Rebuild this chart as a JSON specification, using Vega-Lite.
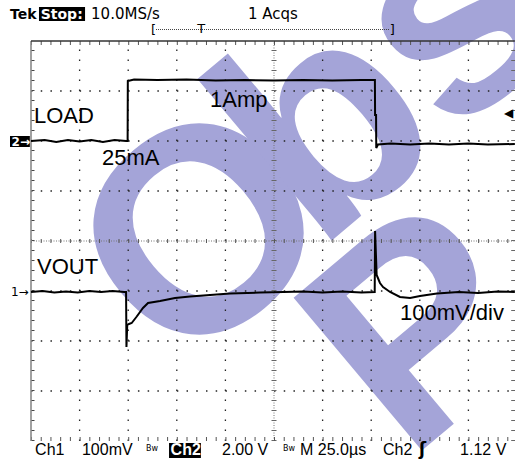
{
  "$schema": "https://vega.github.io/schema/vega-lite/v6.json",
  "width": 515,
  "height": 461,
  "autosize": {"type": "none"},
  "padding": 0,
  "background": "white",
  "config": {"view": {"stroke": null}},
  "datasets": {
    "wm": [
      {"t": -49.9, "v": -2.74, "txt": "O"},
      {"t": 22.1, "v": -0.24, "txt": "b"},
      {"t": 90.5, "v": 2.02, "txt": "s"},
      {"t": 68.4, "v": -4.44, "txt": "P"}
    ],
    "vg": [
      {"t": -100, "v": -4, "v2": 4}, {"t": -75, "v": -4, "v2": 4}, {"t": -50, "v": -4, "v2": 4}, {"t": -25, "v": -4, "v2": 4},
      {"t": 25, "v": -4, "v2": 4}, {"t": 50, "v": -4, "v2": 4}, {"t": 75, "v": -4, "v2": 4}, {"t": 100, "v": -4, "v2": 4}
    ],
    "hg": [
      {"v": -3, "t": -125, "t2": 123.9}, {"v": -2, "t": -125, "t2": 123.9}, {"v": -1, "t": -125, "t2": 123.9},
      {"v": 1, "t": -125, "t2": 123.9}, {"v": 2, "t": -125, "t2": 123.9}, {"v": 3, "t": -125, "t2": 123.9}
    ],
    "vc": [{"t": 0, "v": -4, "v2": 4}],
    "vticks": [{"t": 0, "v": -4, "v2": 4}, {"t": 123.3, "v": -4, "v2": 4}],
    "lticks": [{"t": -124.1, "v": -4, "v2": 4}],
    "lborder": [{"t": -125, "v": -4, "v2": 4}],
    "hc": [{"v": 0, "t": -125, "t2": 123.9}],
    "hticks": [{"v": 0, "t": -125, "t2": 123.9}, {"v": 3.96, "t": -125, "t2": 123.9}, {"v": -3.96, "t": -125, "t2": 123.9}],
    "tborder": [{"v": 4, "t": -125, "t2": 123.9}],
    "ch2": [
      {"t": -125, "v": 2.0}, {"t": -118, "v": 2.02}, {"t": -112, "v": 1.98}, {"t": -106, "v": 2.02},
      {"t": -100, "v": 1.99}, {"t": -94, "v": 2.02}, {"t": -88, "v": 1.98}, {"t": -82, "v": 2.02},
      {"t": -76, "v": 2.0}, {"t": -75.3, "v": 2.0}, {"t": -75.2, "v": 3.2}, {"t": -72, "v": 3.23},
      {"t": -60, "v": 3.22}, {"t": -45, "v": 3.23}, {"t": -30, "v": 3.21}, {"t": -15, "v": 3.22},
      {"t": 0, "v": 3.21}, {"t": 15, "v": 3.22}, {"t": 30, "v": 3.21}, {"t": 45, "v": 3.22},
      {"t": 51.9, "v": 3.22}, {"t": 52.0, "v": 2.52}, {"t": 52.5, "v": 2.52}, {"t": 52.6, "v": 1.86},
      {"t": 53.5, "v": 1.93}, {"t": 60, "v": 1.95}, {"t": 70, "v": 1.93}, {"t": 80, "v": 1.95},
      {"t": 90, "v": 1.93}, {"t": 100, "v": 1.95}, {"t": 110, "v": 1.93}, {"t": 123.9, "v": 1.94}
    ],
    "ch1": [
      {"t": -125, "v": -1.02}, {"t": -119, "v": -1.0}, {"t": -113, "v": -1.03}, {"t": -107, "v": -1.01},
      {"t": -101, "v": -1.03}, {"t": -95, "v": -1.0}, {"t": -89, "v": -1.02}, {"t": -83, "v": -1.0},
      {"t": -77, "v": -1.02}, {"t": -76.1, "v": -1.02}, {"t": -75.9, "v": -2.12}, {"t": -75.5, "v": -1.68},
      {"t": -74.6, "v": -1.66}, {"t": -73.2, "v": -1.64}, {"t": -70.6, "v": -1.51}, {"t": -67.4, "v": -1.34},
      {"t": -64.8, "v": -1.24}, {"t": -58.6, "v": -1.2}, {"t": -50.9, "v": -1.14}, {"t": -43.2, "v": -1.11},
      {"t": -32.9, "v": -1.08}, {"t": -22.6, "v": -1.05}, {"t": -7.2, "v": -1.03}, {"t": 5, "v": -1.02},
      {"t": 15, "v": -1.01}, {"t": 25, "v": -1.03}, {"t": 35, "v": -1.01}, {"t": 45, "v": -1.03},
      {"t": 51.8, "v": -1.02}, {"t": 52.0, "v": 0.2}, {"t": 52.8, "v": -0.68}, {"t": 54.5, "v": -0.84},
      {"t": 56.1, "v": -0.92}, {"t": 59.7, "v": -1.02}, {"t": 64.8, "v": -1.12}, {"t": 70, "v": -1.14},
      {"t": 75.1, "v": -1.1}, {"t": 83.8, "v": -1.05}, {"t": 95, "v": -1.02}, {"t": 105, "v": -1.04},
      {"t": 115, "v": -1.01}, {"t": 123.9, "v": -1.02}
    ],
    "boxes": [
      {"t": -120.9, "t2": -97.2, "v": 4.68, "v2": 4.4},
      {"t": -54.0, "t2": -37.6, "v": -4.04, "v2": -4.34},
      {"t": -135.8, "t2": -125.6, "v": 2.1, "v2": 1.88}
    ],
    "topReg": [
      {"t": -94.1, "v": 4.44, "txt": "10.0MS/s"},
      {"t": -13.4, "v": 4.44, "txt": "1 Acqs"}
    ],
    "topBold": [{"t": -135.8, "v": 4.44, "txt": "Tek"}],
    "topInv": [{"t": -120.0, "v": 4.44, "txt": "Stop:"}],
    "bracket": [
      {"t": -63.3, "v": 4.14, "txt": "["},
      {"t": -39.5, "v": 4.16, "txt": "T"},
      {"t": 59.5, "v": 4.14, "txt": "]"}
    ],
    "bline": [{"t": -60.7, "t2": 59.5, "v": 4.23}],
    "bottom": [
      {"t": -122.9, "v": -4.28, "txt": "Ch1"},
      {"t": -98.8, "v": -4.28, "txt": "100mV"},
      {"t": -26.75, "v": -4.28, "txt": "2.00 V"},
      {"t": 13.4, "v": -4.28, "txt": "M 25.0µs"},
      {"t": 56.1, "v": -4.28, "txt": "Ch2"},
      {"t": 95.7, "v": -4.28, "txt": "1.12 V"}
    ],
    "bottomInv": [{"t": -53.2, "v": -4.28, "txt": "Ch2"}],
    "bw": [
      {"t": -65.8, "v": -4.2, "txt": "Bw"},
      {"t": 4.6, "v": -4.2, "txt": "Bw"}
    ],
    "edge": [{"t": 74.6, "v": -4.28, "txt": "ʃ"}],
    "labels": [
      {"t": -123.5, "v": 2.36, "txt": "LOAD"},
      {"t": -88.5, "v": 1.52, "txt": "25mA"},
      {"t": -32.9, "v": 2.68, "txt": "1Amp"},
      {"t": -121.9, "v": -0.66, "txt": "VOUT"},
      {"t": 64.8, "v": -1.58, "txt": "100mV/div"}
    ],
    "mk2": [{"t": -135.0, "v": 1.9, "txt": "2→"}],
    "mk1": [{"t": -135.3, "v": -1.1, "txt": "1→"}],
    "trig": [{"t": 118.3, "v": 2.56, "txt": "◀"}]
  },
  "encoding": {
    "x": {"field": "t", "type": "quantitative", "scale": {"type": "linear", "domain": [-140.95, 123.97], "nice": false, "zero": false}, "axis": null},
    "y": {"field": "v", "type": "quantitative", "scale": {"type": "linear", "domain": [-4.4, 4.82], "nice": false, "zero": false}, "axis": null}
  },
  "layer": [
    {
      "data": {"name": "wm"},
      "mark": {"type": "text", "font": "Liberation Sans", "fontWeight": "bold", "fontSize": 290, "angle": -40, "align": "left", "baseline": "alphabetic", "color": "#a4a4d8"},
      "encoding": {"text": {"field": "txt"}}
    },
    {
      "data": {"name": "vg"},
      "mark": {"type": "rule", "color": "#222", "strokeWidth": 1.3, "strokeDash": [1.5, 8.5]},
      "encoding": {"y2": {"field": "v2"}}
    },
    {
      "data": {"name": "hg"},
      "mark": {"type": "rule", "color": "#222", "strokeWidth": 1.3, "strokeDash": [1.5, 8.22]},
      "encoding": {"x2": {"field": "t2"}}
    },
    {
      "data": {"name": "vc"},
      "mark": {"type": "rule", "color": "#777", "strokeWidth": 1, "strokeDash": [1, 1.5]},
      "encoding": {"y2": {"field": "v2"}}
    },
    {
      "data": {"name": "vticks"},
      "mark": {"type": "rule", "color": "#666", "strokeWidth": 5, "strokeDash": [1, 9]},
      "encoding": {"y2": {"field": "v2"}}
    },
    {
      "data": {"name": "hc"},
      "mark": {"type": "rule", "color": "#777", "strokeWidth": 1, "strokeDash": [1, 1.5]},
      "encoding": {"x2": {"field": "t2"}}
    },
    {
      "data": {"name": "hticks"},
      "mark": {"type": "rule", "color": "#555", "strokeWidth": 4, "strokeDash": [1, 8.72]},
      "encoding": {"x2": {"field": "t2"}}
    },
    {
      "data": {"name": "lticks"},
      "mark": {"type": "rule", "color": "#444", "strokeWidth": 3.5, "strokeDash": [1, 9]},
      "encoding": {"y2": {"field": "v2"}}
    },
    {
      "data": {"name": "lborder"},
      "mark": {"type": "rule", "color": "#8a8a8a", "strokeWidth": 1.6},
      "encoding": {"y2": {"field": "v2"}}
    },
    {
      "data": {"name": "tborder"},
      "mark": {"type": "rule", "color": "#333", "strokeWidth": 1.5},
      "encoding": {"x2": {"field": "t2"}}
    },
    {
      "data": {"name": "ch2"},
      "mark": {"type": "line", "color": "#000", "strokeWidth": 2, "interpolate": "linear"},
      "encoding": {}
    },
    {
      "data": {"name": "ch1"},
      "mark": {"type": "line", "color": "#000", "strokeWidth": 2, "interpolate": "linear"},
      "encoding": {}
    },
    {
      "data": {"name": "boxes"},
      "mark": {"type": "rect", "color": "#000"},
      "encoding": {"x2": {"field": "t2"}, "y2": {"field": "v2"}}
    },
    {
      "data": {"name": "bline"},
      "mark": {"type": "rule", "color": "#444", "strokeWidth": 1, "strokeDash": [1, 1]},
      "encoding": {"x2": {"field": "t2"}}
    },
    {
      "data": {"name": "topReg"},
      "mark": {"type": "text", "font": "DejaVu Sans", "fontSize": 15, "align": "left", "baseline": "alphabetic", "color": "#000"},
      "encoding": {"text": {"field": "txt"}}
    },
    {
      "data": {"name": "topBold"},
      "mark": {"type": "text", "font": "DejaVu Sans", "fontSize": 14, "fontWeight": "bold", "align": "left", "baseline": "alphabetic", "color": "#000"},
      "encoding": {"text": {"field": "txt"}}
    },
    {
      "data": {"name": "topInv"},
      "mark": {"type": "text", "font": "DejaVu Sans", "fontSize": 14, "fontWeight": "bold", "align": "left", "baseline": "alphabetic", "color": "#fff"},
      "encoding": {"text": {"field": "txt"}}
    },
    {
      "data": {"name": "bracket"},
      "mark": {"type": "text", "font": "DejaVu Sans", "fontSize": 13, "align": "left", "baseline": "alphabetic", "color": "#000"},
      "encoding": {"text": {"field": "txt"}}
    },
    {
      "data": {"name": "bottom"},
      "mark": {"type": "text", "font": "Liberation Sans", "fontSize": 16, "align": "left", "baseline": "alphabetic", "color": "#000"},
      "encoding": {"text": {"field": "txt"}}
    },
    {
      "data": {"name": "bottomInv"},
      "mark": {"type": "text", "font": "Liberation Sans", "fontSize": 16, "fontWeight": "bold", "align": "left", "baseline": "alphabetic", "color": "#fff"},
      "encoding": {"text": {"field": "txt"}}
    },
    {
      "data": {"name": "bw"},
      "mark": {"type": "text", "font": "DejaVu Sans", "fontSize": 8, "align": "left", "baseline": "alphabetic", "color": "#000"},
      "encoding": {"text": {"field": "txt"}}
    },
    {
      "data": {"name": "edge"},
      "mark": {"type": "text", "font": "DejaVu Sans", "fontSize": 17, "fontWeight": "bold", "align": "left", "baseline": "alphabetic", "color": "#000"},
      "encoding": {"text": {"field": "txt"}}
    },
    {
      "data": {"name": "labels"},
      "mark": {"type": "text", "font": "Liberation Sans", "fontSize": 22, "align": "left", "baseline": "alphabetic", "color": "#000"},
      "encoding": {"text": {"field": "txt"}}
    },
    {
      "data": {"name": "mk2"},
      "mark": {"type": "text", "font": "DejaVu Sans", "fontSize": 12, "fontWeight": "bold", "align": "left", "baseline": "alphabetic", "color": "#fff"},
      "encoding": {"text": {"field": "txt"}}
    },
    {
      "data": {"name": "mk1"},
      "mark": {"type": "text", "font": "DejaVu Sans", "fontSize": 12, "align": "left", "baseline": "alphabetic", "color": "#000"},
      "encoding": {"text": {"field": "txt"}}
    },
    {
      "data": {"name": "trig"},
      "mark": {"type": "text", "font": "DejaVu Sans", "fontSize": 12, "align": "left", "baseline": "middle", "color": "#000"},
      "encoding": {"text": {"field": "txt"}}
    }
  ]
}
